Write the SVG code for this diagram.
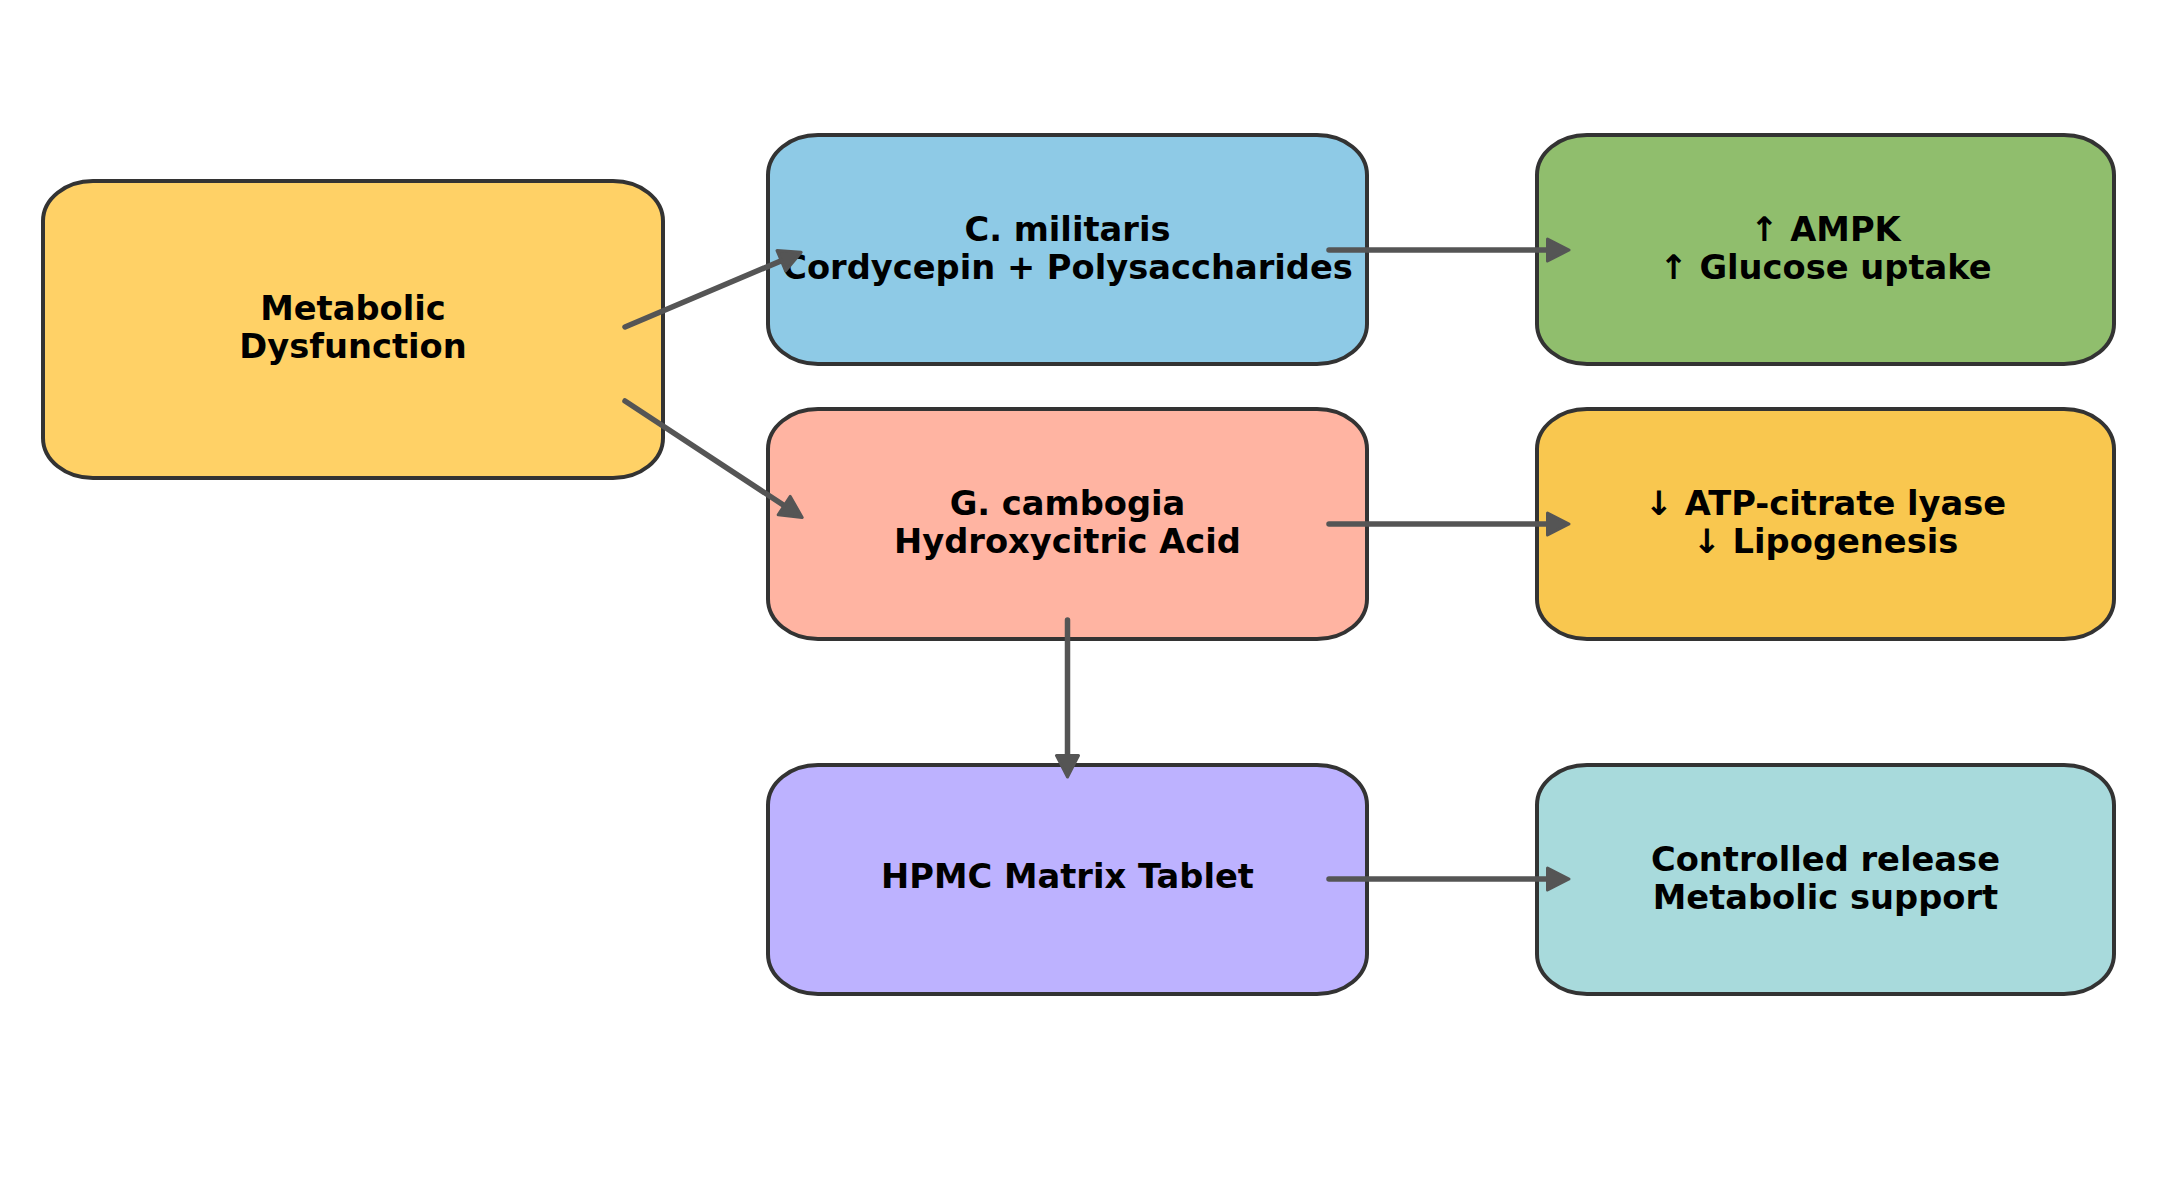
<svg xmlns="http://www.w3.org/2000/svg" width="2177" height="1187" viewBox="0 0 2177 1187">
<style>
.box{stroke:#333333;stroke-width:4}
.lbl{font-family:"DejaVu Sans","Liberation Sans",sans-serif;font-weight:bold;font-size:33.7px;fill:#000000;text-anchor:middle}
.edge{stroke:#555555;stroke-width:5.5;fill:none;stroke-linecap:round}
</style>
<defs>
<marker id="head" markerUnits="userSpaceOnUse" markerWidth="40" markerHeight="40" refX="12" refY="12.5" orient="auto" overflow="visible">
<path d="M1.5,1.5 L23,12.5 L1.5,23.5 Z" fill="#555555" stroke="#555555" stroke-width="3" stroke-linejoin="round"/>
</marker>
</defs>
<rect width="2177" height="1187" fill="#ffffff"/>
<g id="node-metabolic">
<rect class="box" x="43" y="181" width="620" height="297" rx="50" ry="40" fill="#FFD166"/>
<text class="lbl" x="353" y="320">Metabolic</text>
<text class="lbl" x="353" y="358">Dysfunction</text>
</g>
<g id="node-cmilitaris">
<rect class="box" x="768" y="135" width="599" height="229" rx="50" ry="40" fill="#8ECAE6"/>
<text class="lbl" x="1067.5" y="240.5">C. militaris</text>
<text class="lbl" x="1067.5" y="278.5">Cordycepin + Polysaccharides</text>
</g>
<g id="node-gcambogia">
<rect class="box" x="768" y="409" width="599" height="230" rx="50" ry="40" fill="#FFB4A2"/>
<text class="lbl" x="1067.5" y="515">G. cambogia</text>
<text class="lbl" x="1067.5" y="553">Hydroxycitric Acid</text>
</g>
<g id="node-hpmc">
<rect class="box" x="768" y="765" width="599" height="229" rx="50" ry="40" fill="#BDB2FF"/>
<text class="lbl" x="1067.5" y="888">HPMC Matrix Tablet</text>
</g>
<g id="node-ampk">
<rect class="box" x="1537" y="135" width="577" height="229" rx="50" ry="40" fill="#90BE6D"/>
<text class="lbl" x="1825.5" y="240.5">↑ AMPK</text>
<text class="lbl" x="1825.5" y="278.5">↑ Glucose uptake</text>
</g>
<g id="node-atp">
<rect class="box" x="1537" y="409" width="577" height="230" rx="50" ry="40" fill="#F9C74F"/>
<text class="lbl" x="1825.5" y="515">↓ ATP-citrate lyase</text>
<text class="lbl" x="1825.5" y="553">↓ Lipogenesis</text>
</g>
<g id="node-release">
<rect class="box" x="1537" y="765" width="577" height="229" rx="50" ry="40" fill="#A8DADC"/>
<text class="lbl" x="1825.5" y="870.5">Controlled release</text>
<text class="lbl" x="1825.5" y="908.5">Metabolic support</text>
</g>
<g id="connectors">
<line class="edge" x1="625" y1="327" x2="791" y2="256.6" marker-end="url(#head)"/>
<line class="edge" x1="625" y1="401" x2="793" y2="511.4" marker-end="url(#head)"/>
<line class="edge" x1="1329" y1="250" x2="1558" y2="250" marker-end="url(#head)"/>
<line class="edge" x1="1329" y1="524" x2="1558" y2="524" marker-end="url(#head)"/>
<line class="edge" x1="1329" y1="879" x2="1558" y2="879" marker-end="url(#head)"/>
<line class="edge" x1="1067.5" y1="620" x2="1067.5" y2="766" marker-end="url(#head)"/>
</g>
</svg>
